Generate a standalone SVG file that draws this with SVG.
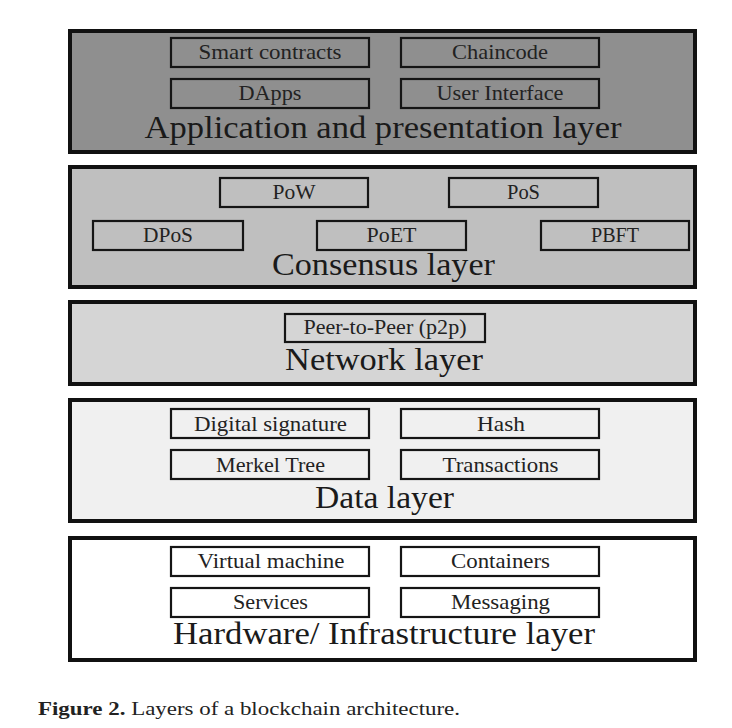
<svg xmlns="http://www.w3.org/2000/svg" width="732" height="728" viewBox="0 0 732 728">
<style>
.layer{stroke:#111;stroke-width:4}
.box{stroke:#151515;stroke-width:2.2}
.lbl{font-family:"Liberation Serif","Times New Roman",serif;font-size:21px;fill:#222;text-anchor:middle}
.ttl{font-family:"Liberation Serif","Times New Roman",serif;font-size:32px;fill:#1a1a1a;text-anchor:middle}
.cap{font-family:"Liberation Serif","Times New Roman",serif;font-size:19px;fill:#222}
</style>
<rect width="732" height="728" fill="#fff"/>
<g id="application-layer">
<rect class="layer" x="70" y="31" width="625" height="121" fill="#8f8f8f"/>
<rect class="box" x="171" y="38" width="198" height="29" fill="#8f8f8f"/>
<text class="lbl" x="270" y="59" textLength="143" lengthAdjust="spacingAndGlyphs">Smart contracts</text>
<rect class="box" x="401" y="38" width="198" height="29" fill="#8f8f8f"/>
<text class="lbl" x="500" y="59" textLength="96" lengthAdjust="spacingAndGlyphs">Chaincode</text>
<rect class="box" x="171" y="79" width="198" height="29" fill="#8f8f8f"/>
<text class="lbl" x="270" y="100" textLength="63" lengthAdjust="spacingAndGlyphs">DApps</text>
<rect class="box" x="401" y="79" width="198" height="29" fill="#8f8f8f"/>
<text class="lbl" x="500" y="100" textLength="127" lengthAdjust="spacingAndGlyphs">User Interface</text>
<text class="ttl" x="383" y="138" textLength="477" lengthAdjust="spacingAndGlyphs">Application and presentation layer</text>
</g>
<g id="consensus-layer">
<rect class="layer" x="70" y="167" width="625" height="120" fill="#bfbfbf"/>
<rect class="box" x="220" y="178" width="148" height="29" fill="#bfbfbf"/>
<text class="lbl" x="294" y="199" textLength="43" lengthAdjust="spacingAndGlyphs">PoW</text>
<rect class="box" x="449" y="178" width="149" height="29" fill="#bfbfbf"/>
<text class="lbl" x="523.5" y="199" textLength="33" lengthAdjust="spacingAndGlyphs">PoS</text>
<rect class="box" x="93" y="221" width="150" height="29" fill="#bfbfbf"/>
<text class="lbl" x="168" y="242" textLength="50" lengthAdjust="spacingAndGlyphs">DPoS</text>
<rect class="box" x="317" y="221" width="149" height="29" fill="#bfbfbf"/>
<text class="lbl" x="391.5" y="242" textLength="50" lengthAdjust="spacingAndGlyphs">PoET</text>
<rect class="box" x="541" y="221" width="148" height="29" fill="#bfbfbf"/>
<text class="lbl" x="615" y="242" textLength="48" lengthAdjust="spacingAndGlyphs">PBFT</text>
<text class="ttl" x="383.5" y="275" textLength="223" lengthAdjust="spacingAndGlyphs">Consensus layer</text>
</g>
<g id="network-layer">
<rect class="layer" x="70" y="302" width="625" height="82" fill="#d5d5d5"/>
<rect class="box" x="285" y="314" width="200" height="28" fill="#d5d5d5"/>
<text class="lbl" x="385" y="334" textLength="163" lengthAdjust="spacingAndGlyphs">Peer-to-Peer (p2p)</text>
<text class="ttl" x="384" y="370" textLength="198" lengthAdjust="spacingAndGlyphs">Network layer</text>
</g>
<g id="data-layer">
<rect class="layer" x="70" y="400" width="625" height="121" fill="#f0f0f0"/>
<rect class="box" x="171" y="409" width="198" height="29" fill="#f0f0f0"/>
<text class="lbl" x="270.5" y="431" textLength="153" lengthAdjust="spacingAndGlyphs">Digital signature</text>
<rect class="box" x="401" y="409" width="198" height="29" fill="#f0f0f0"/>
<text class="lbl" x="501" y="431" textLength="48" lengthAdjust="spacingAndGlyphs">Hash</text>
<rect class="box" x="171" y="450" width="198" height="29" fill="#f0f0f0"/>
<text class="lbl" x="270.5" y="472" textLength="109" lengthAdjust="spacingAndGlyphs">Merkel Tree</text>
<rect class="box" x="401" y="450" width="198" height="29" fill="#f0f0f0"/>
<text class="lbl" x="500.5" y="472" textLength="116" lengthAdjust="spacingAndGlyphs">Transactions</text>
<text class="ttl" x="384.5" y="508" textLength="139" lengthAdjust="spacingAndGlyphs">Data layer</text>
</g>
<g id="hardware-layer">
<rect class="layer" x="70" y="538" width="625" height="122" fill="#ffffff"/>
<rect class="box" x="171" y="547" width="198" height="29" fill="#ffffff"/>
<text class="lbl" x="271" y="568" textLength="147" lengthAdjust="spacingAndGlyphs">Virtual machine</text>
<rect class="box" x="401" y="547" width="198" height="29" fill="#ffffff"/>
<text class="lbl" x="500.5" y="568" textLength="99" lengthAdjust="spacingAndGlyphs">Containers</text>
<rect class="box" x="171" y="588" width="198" height="29" fill="#ffffff"/>
<text class="lbl" x="270.5" y="609" textLength="75" lengthAdjust="spacingAndGlyphs">Services</text>
<rect class="box" x="401" y="588" width="198" height="29" fill="#ffffff"/>
<text class="lbl" x="500.5" y="609" textLength="99" lengthAdjust="spacingAndGlyphs">Messaging</text>
<text class="ttl" x="384" y="644" textLength="422" lengthAdjust="spacingAndGlyphs">Hardware/ Infrastructure layer</text>
</g>
<g id="connectors"/>
<text class="cap" x="38" y="715" textLength="422" lengthAdjust="spacingAndGlyphs"><tspan font-weight="bold">Figure 2.</tspan> Layers of a blockchain architecture.</text>
</svg>
